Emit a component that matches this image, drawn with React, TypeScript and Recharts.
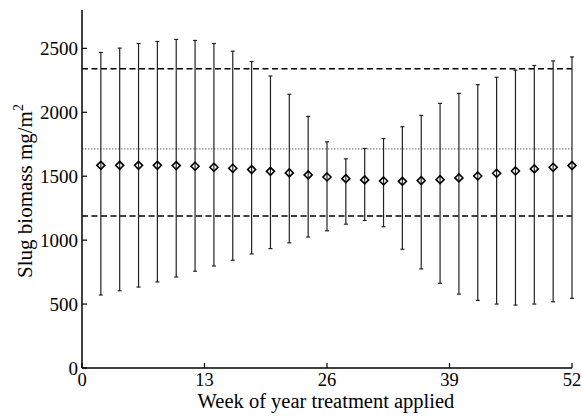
import React from 'react';
import { ComposedChart, XAxis, YAxis, Scatter, ErrorBar, ReferenceLine } from 'recharts';

const weeks = [2, 4, 6, 8, 10, 12, 14, 16, 18, 20, 22, 24, 26, 28, 30, 32, 34, 36, 38, 40, 42, 44, 46, 48, 50, 52];
const means = [1585, 1585, 1585, 1585, 1583, 1578, 1570, 1562, 1552, 1538, 1526, 1510, 1494, 1481, 1471, 1463, 1460, 1466, 1473, 1487, 1502, 1523, 1541, 1557, 1570, 1583];
const upper = [2468, 2502, 2538, 2554, 2570, 2562, 2538, 2478, 2397, 2284, 2141, 1968, 1769, 1636, 1717, 1795, 1887, 1976, 2070, 2148, 2216, 2274, 2329, 2366, 2402, 2433];
const lower = [571, 604, 633, 673, 712, 757, 798, 843, 892, 934, 979, 1024, 1073, 1125, 1154, 1105, 929, 775, 662, 578, 529, 500, 492, 500, 518, 545];
const xTicks = [0, 13, 26, 39, 52];
const yTicks = [0, 500, 1000, 1500, 2000, 2500];
const refUpper = 2340;
const refMid = 1714;
const refLower = 1188;

const data = weeks.map((w, i) => ({
  week: w,
  mean: means[i],
  err: [means[i] - lower[i], upper[i] - means[i]],
}));

const FONT = '"Liberation Serif", "Times New Roman", serif';
const TICK_LEN = 5;

const BottomTick = (props: any) => {
  const { x, y, payload } = props;
  return (
    <g>
      <line x1={x} x2={x} y1={y} y2={y - TICK_LEN} stroke="#000" strokeWidth={1.2} />
      <text x={x} y={y + 18} textAnchor="middle" fontFamily={FONT} fontSize={18.5} fill="#000">
        {payload.value}
      </text>
    </g>
  );
};

const TopTick = (props: any) => {
  const { x, y } = props;
  return <line x1={x} x2={x} y1={y} y2={y + TICK_LEN} stroke="#000" strokeWidth={1.2} />;
};

const LeftTick = (props: any) => {
  const { x, y, payload } = props;
  return (
    <g>
      <line x1={x} x2={x + TICK_LEN} y1={y} y2={y} stroke="#000" strokeWidth={1.2} />
      <text x={x - 4} y={y + 6.5} textAnchor="end" fontFamily={FONT} fontSize={19} fill="#000">
        {payload.value}
      </text>
    </g>
  );
};

const RightTick = (props: any) => {
  const { x, y } = props;
  return <line x1={x} x2={x - TICK_LEN} y1={y} y2={y} stroke="#000" strokeWidth={1.2} />;
};

const Diamond = (props: any) => {
  const { cx, cy } = props;
  const r = 4;
  return (
    <path
      d={`M${cx},${cy - r}L${cx + r},${cy}L${cx},${cy + r}L${cx - r},${cy}Z`}
      fill="none"
      stroke="#000"
      strokeWidth={1.6}
    />
  );
};

export default function App() {
  return (
    <div style={{ position: 'absolute', left: 0, top: 0, width: 582, height: 416, background: '#fff' }}>
      <ComposedChart
        width={582}
        height={416}
        data={data}
        margin={{ top: 10, right: 10, bottom: 0, left: 0 }}
      >
        <XAxis
          xAxisId="bottom"
          dataKey="week"
          type="number"
          domain={[0, 52]}
          ticks={xTicks}
          orientation="bottom"
          height={48}
          tickSize={0}
          tickMargin={0}
          tickLine={false}
          axisLine={{ stroke: '#000', strokeWidth: 1.5 }}
          tick={<BottomTick />}
          interval={0}
          label={{
            content: () => (
              <text x={326} y={407.5} textAnchor="middle" fontFamily={FONT} fontSize={20.5} fill="#000">
                Week of year treatment applied
              </text>
            ),
          }}
        />
        <XAxis
          xAxisId="top"
          type="number"
          domain={[0, 52]}
          ticks={xTicks}
          orientation="top"
          height={0}
          tickSize={0}
          tickMargin={0}
          tickLine={false}
          axisLine={{ stroke: '#000', strokeWidth: 1.5 }}
          tick={<TopTick />}
          interval={0}
        />
        <YAxis
          yAxisId="left"
          dataKey="mean"
          type="number"
          domain={[0, 2800]}
          ticks={yTicks}
          orientation="left"
          width={82}
          tickSize={0}
          tickMargin={0}
          tickLine={false}
          axisLine={{ stroke: '#000', strokeWidth: 1.5 }}
          tick={<LeftTick />}
          interval={0}
          label={{
            content: () => (
              <text
                x={32}
                y={191}
                transform="rotate(-90 32 191)"
                textAnchor="middle"
                fontFamily={FONT}
                fontSize={21}
                fill="#000"
              >
                Slug biomass mg/m
                <tspan fontSize={14} dy={-9}>2</tspan>
              </text>
            ),
          }}
        />
        <YAxis
          yAxisId="right"
          type="number"
          domain={[0, 2800]}
          ticks={yTicks}
          orientation="right"
          width={0}
          tickSize={0}
          tickMargin={0}
          tickLine={false}
          axisLine={{ stroke: '#000', strokeWidth: 1.5 }}
          tick={<RightTick />}
          interval={0}
        />
        <ReferenceLine xAxisId="bottom" yAxisId="left" y={refMid} stroke="#888" strokeWidth={1.2} strokeDasharray="1.5 1.5" />
        <ReferenceLine xAxisId="bottom" yAxisId="left" y={refUpper} stroke="#000" strokeWidth={1.5} strokeDasharray="6 3.5" />
        <ReferenceLine xAxisId="bottom" yAxisId="left" y={refLower} stroke="#000" strokeWidth={1.5} strokeDasharray="6 3.5" />
        <Scatter
          xAxisId="bottom"
          yAxisId="left"
          dataKey="mean"
          shape={<Diamond />}
          isAnimationActive={false}
        >
          <ErrorBar dataKey="err" direction="y" width={2} stroke="#222" strokeWidth={1.2} isAnimationActive={false} />
        </Scatter>
      </ComposedChart>
    </div>
  );
}
